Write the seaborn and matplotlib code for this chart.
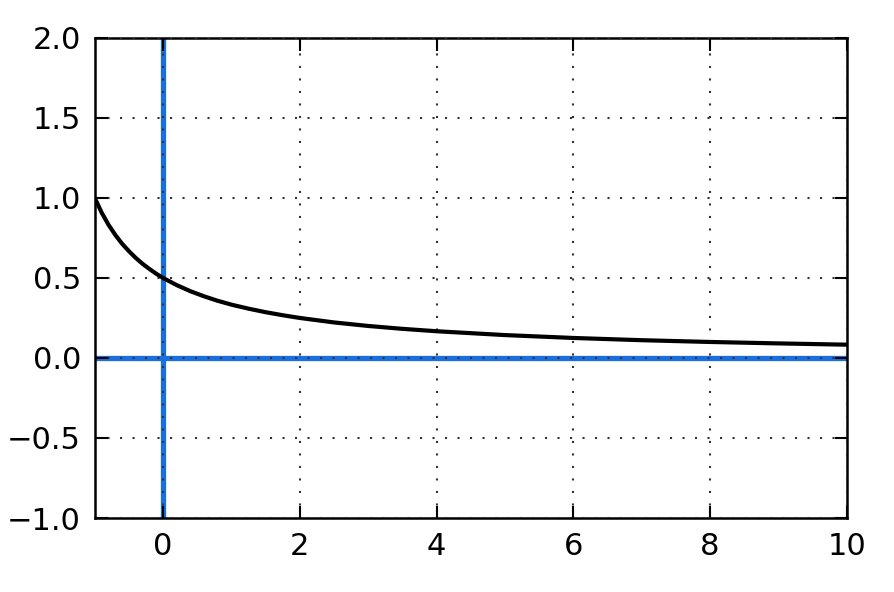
import matplotlib
matplotlib.use("Agg")
import matplotlib.pyplot as plt
import seaborn as sns
import pandas as pd

sns.set_theme(style="white")
plt.rcParams['font.family'] = ['DejaVu Sans']

# values
x_vals = [-1.0, -0.9, -0.8, -0.7, -0.6, -0.5, -0.4, -0.3, -0.2, -0.1, 0.0,
          0.2, 0.4, 0.6, 0.8, 1.0, 1.25, 1.5, 1.75, 2.0, 2.5, 3.0, 3.5,
          4.0, 5.0, 6.0, 7.0, 8.0, 9.0, 10.0]
y_vals = [1.0, 0.909, 0.833, 0.769, 0.714, 0.667, 0.625, 0.588, 0.556, 0.526,
          0.5, 0.455, 0.417, 0.385, 0.357, 0.333, 0.308, 0.286, 0.267, 0.25,
          0.222, 0.2, 0.182, 0.167, 0.143, 0.125, 0.111, 0.1, 0.091, 0.083]
x_ticks = [0, 2, 4, 6, 8, 10]
y_ticks = [-1.0, -0.5, 0.0, 0.5, 1.0, 1.5, 2.0]

df = pd.DataFrame({'x': x_vals, 'y': y_vals})

fig = plt.figure(figsize=(8.94, 5.92), dpi=100)
ax = fig.add_axes([0.106, 0.125, 0.841, 0.811])

blue = '#1a6fe0'
ax.axhline(0, color=blue, lw=3.8, zorder=1)
ax.axvline(0, color=blue, lw=3.8, zorder=1)

sns.lineplot(data=df, x='x', y='y', ax=ax, color='black', lw=3, zorder=3)

ax.set_xlim(-1, 10)
ax.set_ylim(-1, 2)
ax.set_xticks(x_ticks)
ax.set_yticks(y_ticks)
ax.set_yticklabels([f"{v:.1f}".replace('-', '\u2212') for v in y_ticks])
ax.set_xlabel("")
ax.set_ylabel("")

ax.grid(True, color='#333333', linestyle=(0, (1, 5)), linewidth=1.5, zorder=2)
ax.set_axisbelow(False)
for s in ax.spines.values():
    s.set_color('black')
    s.set_linewidth(1.8)
ax.tick_params(direction='in', length=9, width=1.5, labelsize=22,
               colors='black', pad=10, top=True, right=True,
               bottom=True, left=True)

fig.savefig('out.png', dpi=100)
